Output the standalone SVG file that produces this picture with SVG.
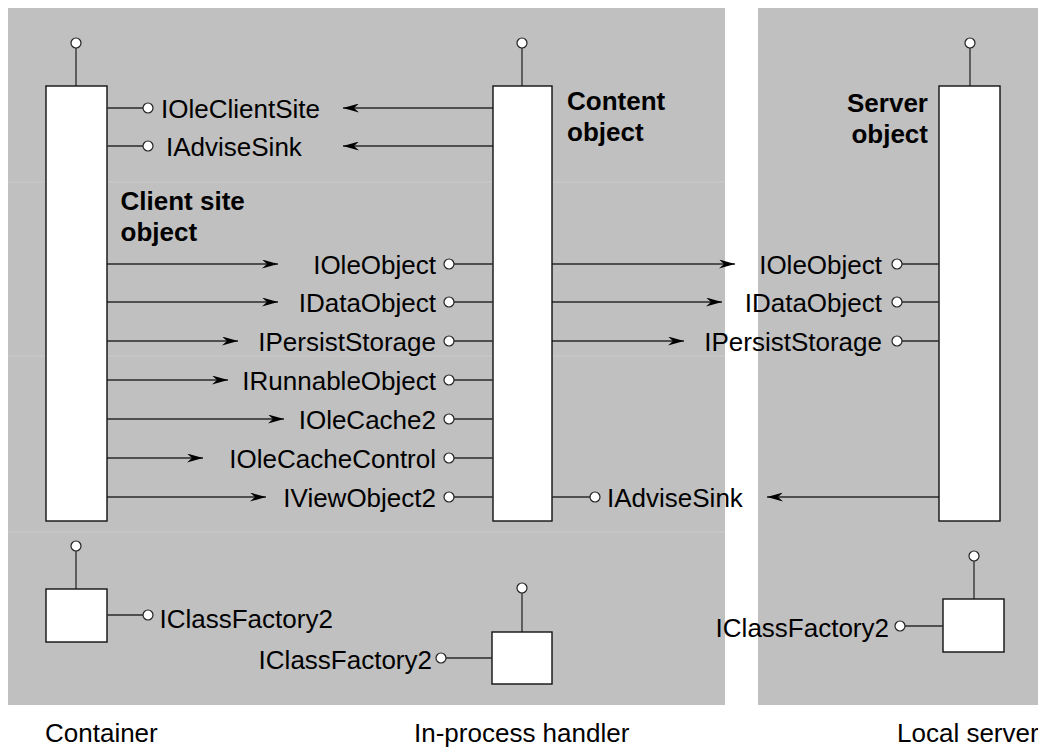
<svg xmlns="http://www.w3.org/2000/svg" width="1038" height="747" viewBox="0 0 1038 747">
<style>
.bg{fill:#c0c0c0}
.seam{stroke:#cbcbcb;stroke-width:1}
.box{fill:#fff;stroke:#111;stroke-width:1.4}
.ln{stroke:#2a2a2a;stroke-width:1.3;fill:none}
.arr{stroke:#2a2a2a;stroke-width:1.3;fill:none;marker-end:url(#ah)}
.pin{fill:#fff;stroke:#222;stroke-width:1.2}
text{font-family:"Liberation Sans",Arial,Helvetica,sans-serif;font-size:26px;fill:#000}
.b{font-weight:bold}
.e{text-anchor:end}
</style>
<defs>
<marker id="ah" viewBox="0 0 16 9" refX="16" refY="4.5" markerWidth="16" markerHeight="9" markerUnits="userSpaceOnUse" orient="auto">
<path d="M0,0 L16,4.5 L0,9 L5,4.5 Z" fill="#000"/>
</marker>
</defs>
<g id="panels">
<rect class="bg" x="8" y="8" width="717" height="697"/>
<rect class="bg" x="758" y="8" width="280" height="697"/>
<line class="seam" x1="8" y1="182" x2="725" y2="182"/>
<line class="seam" x1="8" y1="356" x2="725" y2="356"/>
<line class="seam" x1="8" y1="532" x2="725" y2="532"/>
</g>
<g id="connectors">
<line class="arr" x1="493" y1="108" x2="343" y2="108"/>
<line class="arr" x1="493" y1="146" x2="343" y2="146"/>
<line class="arr" x1="107" y1="264" x2="278" y2="264"/>
<line class="arr" x1="107" y1="302" x2="278" y2="302"/>
<line class="arr" x1="107" y1="341" x2="238" y2="341"/>
<line class="arr" x1="107" y1="380" x2="228" y2="380"/>
<line class="arr" x1="107" y1="419" x2="284" y2="419"/>
<line class="arr" x1="107" y1="458" x2="203" y2="458"/>
<line class="arr" x1="107" y1="497" x2="266" y2="497"/>
<line class="arr" x1="552" y1="264" x2="735" y2="264"/>
<line class="arr" x1="552" y1="302" x2="722" y2="302"/>
<line class="arr" x1="552" y1="341" x2="684" y2="341"/>
<line class="arr" x1="939" y1="497" x2="767" y2="497"/>
</g>
<g id="container-site">
<line class="ln" x1="76" y1="48" x2="76" y2="86"/>
<circle class="pin" cx="76" cy="43" r="5"/>
<rect class="box" x="46" y="86" width="61" height="435"/>
<line class="ln" x1="107" y1="108" x2="143" y2="108"/>
<circle class="pin" cx="148" cy="108" r="5"/>
<text x="161" y="117.5">IOleClientSite</text>
<line class="ln" x1="107" y1="146" x2="143" y2="146"/>
<circle class="pin" cx="148" cy="146" r="5"/>
<text x="166" y="155.5">IAdviseSink</text>
<text class="b" x="120.5" y="210">Client site</text>
<text class="b" x="120.5" y="241">object</text>
</g>
<g id="content-object">
<line class="ln" x1="522" y1="48" x2="522" y2="86"/>
<circle class="pin" cx="522" cy="43" r="5"/>
<rect class="box" x="493" y="86" width="59" height="435"/>
<text class="b" x="567" y="110">Content</text>
<text class="b" x="567" y="141">object</text>
<g>
<line class="ln" x1="454" y1="264" x2="493" y2="264"/><circle class="pin" cx="449" cy="264" r="5"/><text class="e" x="436" y="273.5">IOleObject</text>
<line class="ln" x1="454" y1="302" x2="493" y2="302"/><circle class="pin" cx="449" cy="302" r="5"/><text class="e" x="436" y="311.5">IDataObject</text>
<line class="ln" x1="454" y1="341" x2="493" y2="341"/><circle class="pin" cx="449" cy="341" r="5"/><text class="e" x="436" y="350.5">IPersistStorage</text>
<line class="ln" x1="454" y1="380" x2="493" y2="380"/><circle class="pin" cx="449" cy="380" r="5"/><text class="e" x="436" y="389.5">IRunnableObject</text>
<line class="ln" x1="454" y1="419" x2="493" y2="419"/><circle class="pin" cx="449" cy="419" r="5"/><text class="e" x="436" y="428.5">IOleCache2</text>
<line class="ln" x1="454" y1="458" x2="493" y2="458"/><circle class="pin" cx="449" cy="458" r="5"/><text class="e" x="436" y="467.5">IOleCacheControl</text>
<line class="ln" x1="454" y1="497" x2="493" y2="497"/><circle class="pin" cx="449" cy="497" r="5"/><text class="e" x="436" y="506.5">IViewObject2</text>
</g>
<line class="ln" x1="552" y1="497" x2="590" y2="497"/>
<circle class="pin" cx="595" cy="497" r="5"/>
<text x="607" y="506.5">IAdviseSink</text>
</g>
<g id="server-object">
<line class="ln" x1="970" y1="48" x2="970" y2="86"/>
<circle class="pin" cx="970" cy="43" r="5"/>
<rect class="box" x="939" y="86" width="61" height="435"/>
<text class="b e" x="928" y="112">Server</text>
<text class="b e" x="928" y="143">object</text>
<line class="ln" x1="902" y1="264" x2="939" y2="264"/><circle class="pin" cx="897" cy="264" r="5"/><text class="e" x="882" y="273.5">IOleObject</text>
<line class="ln" x1="902" y1="302" x2="939" y2="302"/><circle class="pin" cx="897" cy="302" r="5"/><text class="e" x="882" y="311.5">IDataObject</text>
<line class="ln" x1="902" y1="341" x2="939" y2="341"/><circle class="pin" cx="897" cy="341" r="5"/><text class="e" x="882" y="350.5">IPersistStorage</text>
</g>
<g id="container-factory">
<line class="ln" x1="76" y1="551" x2="76" y2="589"/>
<circle class="pin" cx="76" cy="546" r="5"/>
<rect class="box" x="46" y="589" width="61" height="53"/>
<line class="ln" x1="107" y1="615" x2="143" y2="615"/>
<circle class="pin" cx="148" cy="615" r="5"/>
<text x="159.5" y="627.5">IClassFactory2</text>
</g>
<g id="handler-factory">
<line class="ln" x1="522" y1="593" x2="522" y2="632"/>
<circle class="pin" cx="522" cy="588" r="5"/>
<rect class="box" x="492" y="632" width="60" height="52"/>
<line class="ln" x1="446" y1="658" x2="492" y2="658"/>
<circle class="pin" cx="441" cy="658" r="5"/>
<text class="e" x="432" y="669">IClassFactory2</text>
</g>
<g id="server-factory">
<line class="ln" x1="974" y1="561" x2="974" y2="599"/>
<circle class="pin" cx="974" cy="556" r="5"/>
<rect class="box" x="943" y="599" width="61" height="53"/>
<line class="ln" x1="905" y1="626" x2="943" y2="626"/>
<circle class="pin" cx="900" cy="626" r="5"/>
<text class="e" x="889" y="636.5">IClassFactory2</text>
</g>
<g id="labels">
<text x="45" y="742">Container</text>
<text x="414" y="742">In-process handler</text>
<text x="897" y="742">Local server</text>
</g>
</svg>
